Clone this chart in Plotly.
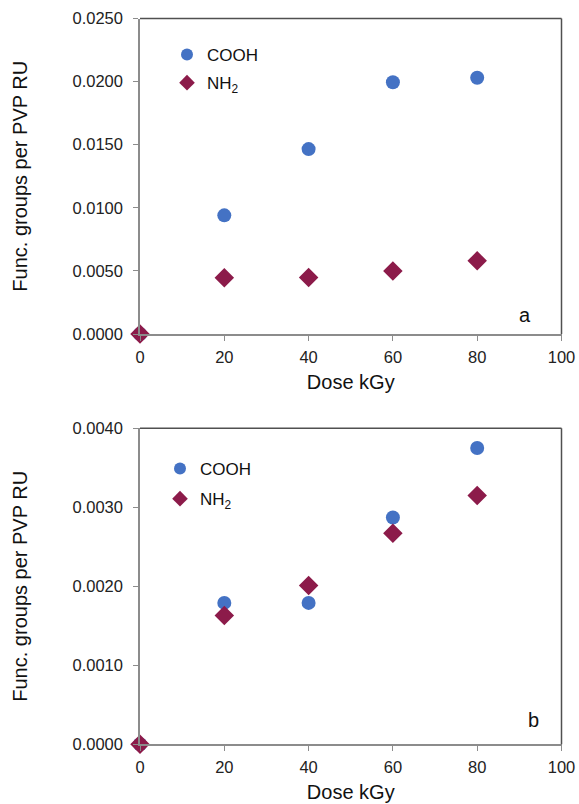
import plotly.graph_objects as go

dose = [0, 20, 40, 60, 80]
cooh_a = [0.0, 0.0094, 0.01465, 0.01995, 0.0203]
nh2_a = [0.0, 0.00445, 0.00448, 0.00500, 0.00580]
cooh_b = [0.0, 0.00179, 0.00179, 0.00287, 0.00375]
nh2_b = [0.0, 0.00163, 0.00201, 0.00267, 0.00315]

x_ticks = [0, 20, 40, 60, 80, 100]
ya_ticks = [0.0, 0.005, 0.010, 0.015, 0.020, 0.025]
yb_ticks = [0.0, 0.001, 0.002, 0.003, 0.004]

BLUE = "#4472C4"
MAROON = "#8C1B4A"
FONT = "Liberation Sans, Arial, sans-serif"
AX = "#8c8c8c"
FRAME = "#505050"

fig = go.Figure()

def add_panel(cooh, nh2, xa, ya, leg):
    fig.add_trace(go.Scatter(x=dose, y=cooh, mode="markers", name="COOH", cliponaxis=False,
                             marker=dict(symbol="circle", size=14, color=BLUE),
                             xaxis=xa, yaxis=ya, legend=leg, legendgroup=leg + "c"))
    fig.add_trace(go.Scatter(x=dose, y=nh2, mode="markers", name="NH<sub>2</sub>", cliponaxis=False,
                             marker=dict(symbol="diamond", size=15, color=MAROON),
                             xaxis=xa, yaxis=ya, legend=leg, legendgroup=leg + "n"))

add_panel(cooh_a, nh2_a, "x", "y", "legend")
add_panel(cooh_b, nh2_b, "x2", "y2", "legend2")

xdom = [140 / 579, 561.5 / 579]
ydom_a = [1 - 334 / 804, 1 - 18.5 / 804]
ydom_b = [1 - 744.3 / 804, 1 - 428.3 / 804]

tickfont = dict(family=FONT, size=16.5, color="#222222")
titlefont = dict(family=FONT, size=20, color="#111111")

def xaxis(anchor, dom):
    return dict(domain=dom, anchor=anchor, range=[0, 100], tickvals=x_ticks, automargin=False,
                showgrid=False, zeroline=False, showline=True, linecolor=AX, linewidth=1.5,
                ticks="outside", ticklen=5, tickcolor=AX, tickfont=tickfont, ticklabelstandoff=2,
                title=dict(text="Dose kGy", font=titlefont, standoff=10))

def yaxis(anchor, dom, rng, tv):
    return dict(domain=dom, anchor=anchor, range=rng, tickvals=tv, tickformat=".4f", automargin=False,
                showgrid=False, zeroline=False, showline=True, linecolor=AX, linewidth=1.5,
                ticks="outside", ticklen=5, tickcolor=AX, tickfont=tickfont, ticklabelstandoff=7,
                title=dict(text="Func. groups per PVP RU", font=titlefont, standoff=39))

fig.update_layout(
    width=579, height=804,
    margin=dict(l=0, r=0, t=0, b=0),
    paper_bgcolor="white", plot_bgcolor="white",
    xaxis=xaxis("y", xdom), yaxis=yaxis("x", ydom_a, [0, 0.025], ya_ticks),
    xaxis2=xaxis("y2", xdom), yaxis2=yaxis("x2", ydom_b, [0, 0.004], yb_ticks),
    legend=dict(x=167 / 579, y=1 - 37 / 804, xanchor="left", yanchor="top",
                bgcolor="rgba(0,0,0,0)", font=dict(family=FONT, size=17, color="#111111"),
                itemsizing="constant", tracegroupgap=3, traceorder="grouped"),
    legend2=dict(x=160 / 579, y=1 - 451 / 804, xanchor="left", yanchor="top",
                 bgcolor="rgba(0,0,0,0)", font=dict(family=FONT, size=17, color="#111111"),
                 itemsizing="constant", tracegroupgap=5, traceorder="grouped"),
    showlegend=True,
)

for xr, yr in [("x", "y"), ("x2", "y2")]:
    fig.add_shape(type="line", xref=f"{xr} domain", yref=f"{yr} domain",
                  x0=0, x1=1, y0=1, y1=1, line=dict(color=FRAME, width=1.5))
    fig.add_shape(type="line", xref=f"{xr} domain", yref=f"{yr} domain",
                  x0=1, x1=1, y0=0, y1=1, line=dict(color=FRAME, width=1.5))

fig.add_annotation(text="a", xref="paper", yref="paper", x=533 / 579, y=1 - 315 / 804,
                   showarrow=False, font=dict(family=FONT, size=20, color="#111111"))
fig.add_annotation(text="b", xref="paper", yref="paper", x=541 / 579, y=1 - 733 / 804,
                   showarrow=False, font=dict(family=FONT, size=20, color="#111111"))

fig.write_html("out.html")
